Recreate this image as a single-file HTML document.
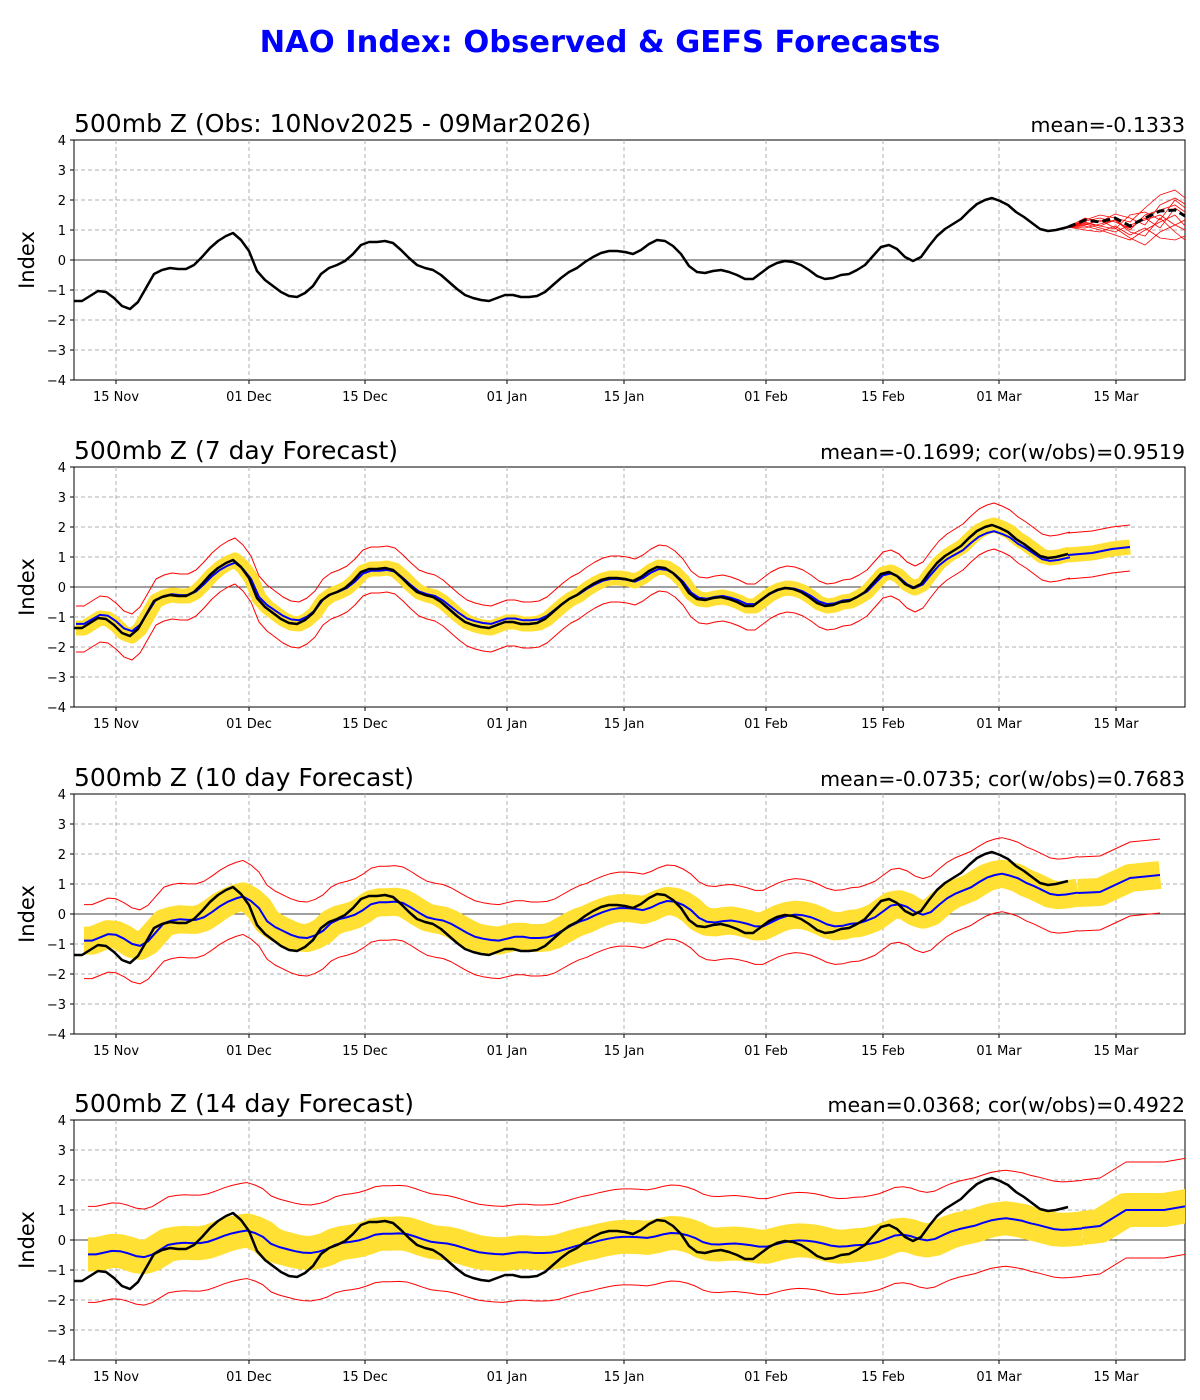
<!DOCTYPE html>
<html><head><meta charset="utf-8"><style>
html,body{margin:0;padding:0;background:#fff;}
svg{display:block;font-family:"DejaVu Sans","Liberation Sans",sans-serif;}
</style></head><body>
<svg width="1200" height="1400" viewBox="0 0 1200 1400" xmlns="http://www.w3.org/2000/svg">
<defs>
<path id="obs" fill="none" vector-effect="non-scaling-stroke" stroke-linejoin="round" d="M74,301 L82,301 90,296 98,291 106,292 114,298 122,306 130,309 138,302 146,288 154,274 162,270 170,268 178,269 186,269 194,265 202,257 210,248 218,241 226,236 233,233 241,240 249,251 257,271 265,280 273,286 281,292 289,296 297,297 305,293 313,286 321,274 329,268 337,265 345,261 353,254 361,245 369,242 377,242 385,241 393,243 401,250 409,258 417,265 425,268 433,270 441,275 449,282 457,289 465,295 473,298 481,300 489,301 497,298 505,295 513,295 521,297 529,297 537,296 545,292 553,285 561,278 569,272 577,268 585,262 593,257 601,253 609,251 617,251 625,252 633,254 641,250 649,244 657,240 665,241 673,246 681,254 689,266 697,272 705,273 713,271 721,270 729,272 737,275 745,279 753,279 761,273 769,267 777,263 785,261 793,262 801,265 809,270 817,276 825,279 833,278 841,275 849,274 857,270 865,265 873,256 881,247 889,245 897,249 905,257 913,261 921,257 929,246 937,236 945,229 953,224 961,219 969,211 977,204 985,200 992,198 1000,201 1008,205 1016,212 1024,217 1032,223 1040,229 1048,231 1056,230 1064,228 1068,227"/>
<polyline id="e2" fill="none" stroke-linejoin="round" points="1066,228 1090,226 1100,224 1110,222 1128,220"/>
<polyline id="e3" fill="none" stroke-linejoin="round" points="1068,239 1090,238 1120,224 1150,221"/>
<polyline id="e4" fill="none" stroke-linejoin="round" points="1068,248 1086,246 1112,230 1150,230 1185,224"/>
<g id="axes">
<rect x="74" y="140" width="1111" height="240" fill="none" stroke="#000" stroke-width="1"/>
<g stroke="#b0b0b0" stroke-dasharray="4,3" stroke-width="1">
<line x1="116" y1="140" x2="116" y2="380"/><line x1="249" y1="140" x2="249" y2="380"/><line x1="365" y1="140" x2="365" y2="380"/><line x1="507" y1="140" x2="507" y2="380"/><line x1="624" y1="140" x2="624" y2="380"/><line x1="766" y1="140" x2="766" y2="380"/><line x1="883" y1="140" x2="883" y2="380"/><line x1="999" y1="140" x2="999" y2="380"/><line x1="1116" y1="140" x2="1116" y2="380"/>
<line x1="74" y1="170" x2="1185" y2="170"/><line x1="74" y1="200" x2="1185" y2="200"/><line x1="74" y1="230" x2="1185" y2="230"/><line x1="74" y1="290" x2="1185" y2="290"/><line x1="74" y1="320" x2="1185" y2="320"/><line x1="74" y1="350" x2="1185" y2="350"/>
</g>
<line x1="74" y1="260" x2="1185" y2="260" stroke="#000" stroke-width="0.8"/>
<g stroke="#000" stroke-width="1">
<line x1="70" y1="140" x2="74" y2="140"/><line x1="70" y1="170" x2="74" y2="170"/><line x1="70" y1="200" x2="74" y2="200"/><line x1="70" y1="230" x2="74" y2="230"/><line x1="70" y1="260" x2="74" y2="260"/><line x1="70" y1="290" x2="74" y2="290"/><line x1="70" y1="320" x2="74" y2="320"/><line x1="70" y1="350" x2="74" y2="350"/><line x1="70" y1="380" x2="74" y2="380"/>
<line x1="116" y1="380" x2="116" y2="384"/><line x1="249" y1="380" x2="249" y2="384"/><line x1="365" y1="380" x2="365" y2="384"/><line x1="507" y1="380" x2="507" y2="384"/><line x1="624" y1="380" x2="624" y2="384"/><line x1="766" y1="380" x2="766" y2="384"/><line x1="883" y1="380" x2="883" y2="384"/><line x1="999" y1="380" x2="999" y2="384"/><line x1="1116" y1="380" x2="1116" y2="384"/>
</g>
<g font-size="13" text-anchor="end" fill="#000">
<text x="66" y="145">4</text><text x="66" y="175">3</text><text x="66" y="205">2</text><text x="66" y="235">1</text><text x="66" y="265">0</text><text x="66" y="295">−1</text><text x="66" y="325">−2</text><text x="66" y="355">−3</text><text x="66" y="385">−4</text>
</g>
<g font-size="13" text-anchor="middle" fill="#000">
<text x="116" y="401">15 Nov</text><text x="249" y="401">01 Dec</text><text x="365" y="401">15 Dec</text><text x="507" y="401">01 Jan</text><text x="624" y="401">15 Jan</text><text x="766" y="401">01 Feb</text><text x="883" y="401">15 Feb</text><text x="999" y="401">01 Mar</text><text x="1116" y="401">15 Mar</text>
</g>
<text x="27" y="260" font-size="21" text-anchor="middle" transform="rotate(-90 27 260)" dy="7">Index</text>
</g>
<clipPath id="clip"><rect x="74" y="140" width="1111" height="240"/></clipPath>
</defs>

<text x="600" y="52" font-size="30.5" font-weight="bold" fill="#0000ff" text-anchor="middle">NAO Index: Observed &amp; GEFS Forecasts</text>

<!-- Panel 1 -->
<g>
<use href="#axes"/>
<text x="74" y="132" font-size="25">500mb Z (Obs: 10Nov2025 - 09Mar2026)</text>
<text x="1185" y="132" font-size="20.5" text-anchor="end">mean=-0.1333</text>
<g clip-path="url(#clip)">
<g fill="none" stroke="#ff0000" stroke-width="0.8">
<polyline points="1068,227 1085,222 1100,226 1115,220 1130,230 1145,215 1160,210 1175,205 1185,212"/>
<polyline points="1068,227 1085,225 1100,220 1115,228 1130,238 1145,245 1160,232 1175,225 1185,230"/>
<polyline points="1068,227 1085,220 1100,215 1115,218 1130,222 1145,208 1160,195 1175,190 1185,198"/>
<polyline points="1068,227 1085,230 1100,232 1115,226 1130,235 1145,228 1160,238 1175,240 1185,236"/>
<polyline points="1068,227 1085,224 1100,228 1115,232 1130,225 1145,220 1160,215 1175,225 1185,220"/>
<polyline points="1068,227 1085,218 1100,222 1115,214 1130,218 1145,225 1160,205 1175,198 1185,204"/>
<polyline points="1068,227 1085,226 1100,230 1115,235 1130,240 1145,230 1160,222 1175,215 1185,226"/>
<polyline points="1068,227 1085,221 1100,218 1115,222 1130,228 1145,218 1160,228 1175,208 1185,215"/>
<polyline points="1068,227 1085,228 1100,224 1115,220 1130,232 1145,236 1160,218 1175,232 1185,240"/>
<polyline points="1068,227 1085,223 1100,226 1115,229 1130,215 1145,212 1160,220 1175,200 1185,208"/>
</g>
<polyline points="1068,227 1085,220 1100,222 1115,218 1130,226 1145,218 1160,211 1175,210 1185,216" fill="none" stroke="#000" stroke-width="3" stroke-dasharray="8,4"/>
<use href="#obs" stroke="#000" stroke-width="2.5"/>
</g>
</g>

<!-- Panel 2 -->
<g transform="translate(0,327)">
<use href="#axes"/>
<text x="74" y="132" font-size="25">500mb Z (7 day Forecast)</text>
<text x="1185" y="132" font-size="20.5" text-anchor="end">mean=-0.1699; cor(w/obs)=0.9519</text>
<g clip-path="url(#clip)">
<g transform="translate(2,0)">
<use href="#obs" stroke="#ffe033" stroke-width="15"/>
<use href="#e2" stroke="#ffe033" stroke-width="15"/>
<g transform="translate(0,-22)"><use href="#obs" stroke="#ff0000" stroke-width="1"/><use href="#e2" stroke="#f00" stroke-width="1"/></g>
<g transform="translate(0,24)"><use href="#obs" stroke="#ff0000" stroke-width="1"/><use href="#e2" stroke="#f00" stroke-width="1"/></g>
<g transform="translate(0,260) scale(1,0.9) translate(0,-260)"><use href="#obs" stroke="#0000ff" stroke-width="2"/></g>
<use href="#e2" stroke="#00f" stroke-width="2"/>
</g>
<use href="#obs" stroke="#000" stroke-width="2.5"/>
</g>
</g>

<!-- Panel 3 -->
<g transform="translate(0,654)">
<use href="#axes"/>
<text x="74" y="132" font-size="25">500mb Z (10 day Forecast)</text>
<text x="1185" y="132" font-size="20.5" text-anchor="end">mean=-0.0735; cor(w/obs)=0.7683</text>
<g clip-path="url(#clip)">
<g transform="translate(10,0)">
<g transform="translate(0,260) scale(1,0.65) translate(0,-260)"><use href="#obs" stroke="#ffe033" stroke-width="28"/></g>
<use href="#e3" stroke="#ffe033" stroke-width="28"/>
<g transform="translate(0,-36)"><g transform="translate(0,260) scale(1,0.65) translate(0,-260)"><use href="#obs" stroke="#f00" stroke-width="1"/></g><use href="#e3" stroke="#f00" stroke-width="1"/></g>
<g transform="translate(0,38)"><g transform="translate(0,260) scale(1,0.65) translate(0,-260)"><use href="#obs" stroke="#f00" stroke-width="1"/></g><use href="#e3" stroke="#f00" stroke-width="1"/></g>
<g transform="translate(0,260) scale(1,0.65) translate(0,-260)"><use href="#obs" stroke="#00f" stroke-width="2"/></g>
<use href="#e3" stroke="#00f" stroke-width="2"/>
</g>
<use href="#obs" stroke="#000" stroke-width="2.5"/>
</g>
</g>

<!-- Panel 4 -->
<g transform="translate(0,980)">
<use href="#axes"/>
<text x="74" y="132" font-size="25">500mb Z (14 day Forecast)</text>
<text x="1185" y="132" font-size="20.5" text-anchor="end">mean=0.0368; cor(w/obs)=0.4922</text>
<g clip-path="url(#clip)">
<g transform="translate(14,0)">
<g transform="translate(0,260) scale(1,0.35) translate(0,-260)"><use href="#obs" stroke="#ffe033" stroke-width="34"/></g>
<use href="#e4" stroke="#ffe033" stroke-width="34"/>
<g transform="translate(0,-48)"><g transform="translate(0,260) scale(1,0.35) translate(0,-260)"><use href="#obs" stroke="#f00" stroke-width="1"/></g><use href="#e4" stroke="#f00" stroke-width="1"/></g>
<g transform="translate(0,48)"><g transform="translate(0,260) scale(1,0.35) translate(0,-260)"><use href="#obs" stroke="#f00" stroke-width="1"/></g><use href="#e4" stroke="#f00" stroke-width="1"/></g>
<g transform="translate(0,260) scale(1,0.35) translate(0,-260)"><use href="#obs" stroke="#00f" stroke-width="2"/></g>
<use href="#e4" stroke="#00f" stroke-width="2"/>
</g>
<use href="#obs" stroke="#000" stroke-width="2.5"/>
</g>
</g>
</svg>
</body></html>
